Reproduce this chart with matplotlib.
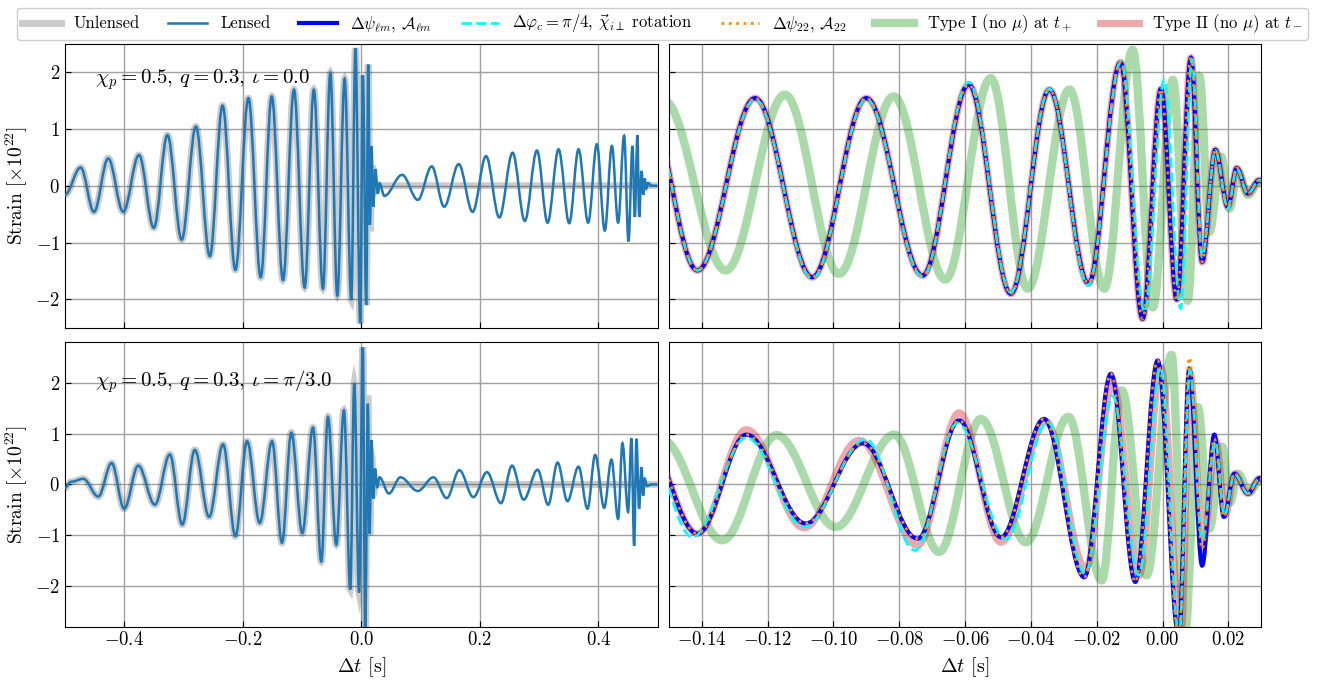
import matplotlib
matplotlib.use("Agg")
import matplotlib.pyplot as plt
from matplotlib.path import Path
from matplotlib.patches import PathPatch
from matplotlib.lines import Line2D
from matplotlib.ticker import MultipleLocator

plt.rcParams.update({
    "font.family": "serif",
    "font.serif": ["cmr10"],
    "mathtext.fontset": "cm",
    "axes.formatter.use_mathtext": True,
    "font.size": 13,
})

# ---- extrema (time [s], strain [x1e22]) ----
# left column, top row (iota = 0)
t_lens_top = [-0.500, -0.4735, -0.451, -0.427, -0.4016, -0.375, -0.350, -0.327, -0.303, -0.279,
              -0.2555, -0.234, -0.2123, -0.1904, -0.1696, -0.151, -0.132, -0.1135, -0.0955, -0.080,
              -0.0646, -0.0522, -0.0404, -0.028, -0.0168, -0.0098, -0.0017, 0.0028, 0.0084, 0.0118,
              0.0146, 0.0174, 0.0202, 0.024, 0.028, 0.031, 0.039, 0.069, 0.0955, 0.119,
              0.140, 0.1645, 0.188, 0.2106, 0.233, 0.2555, 0.276, 0.2965, 0.3145, 0.333,
              0.351, 0.3667, 0.383, 0.3976, 0.411, 0.423, 0.4335, 0.4436, 0.451, 0.4577,
              0.4617, 0.466, 0.469, 0.473, 0.476, 0.478, 0.481, 0.484, 0.490, 0.500]
v_lens_top = [-0.16, 0.32, -0.46, 0.48, -0.46, 0.54, -0.74, 0.89, -0.95, 1.04,
              -1.24, 1.41, -1.48, 1.54, -1.61, 1.57, -1.66, 1.69, -1.79, 1.69,
              -1.81, 1.98, -1.93, 1.88, -2.01, 2.42, -2.42, 1.94, -2.10, 2.13,
              -0.69, 0.69, -0.37, 0.29, -0.14, 0.04, -0.18, 0.19, -0.25, 0.34,
              -0.37, 0.38, -0.46, 0.52, -0.56, 0.58, -0.62, 0.62, -0.65, 0.64,
              -0.66, 0.64, -0.65, 0.73, -0.79, 0.70, -0.65, 0.88, -0.98, 0.70,
              -0.55, 0.89, -0.55, 0.26, -0.16, 0.13, -0.05, 0.05, 0.0, 0.0]
# unlensed: same inspiral as lensed up to merger, then ringdown to zero
t_unl_top = t_lens_top[:30] + [0.0150, 0.0185, 0.0215, 0.026, 0.032, 0.500]
v_unl_top = v_lens_top[:30] + [-0.80, 0.35, -0.12, 0.03, 0.0, 0.0]

# left column, bottom row (iota = pi/3)
t_lens_bot = [-0.500, -0.490, -0.469, -0.4437, -0.4212, -0.400, -0.3763, -0.3482, -0.323, -0.302,
              -0.2808, -0.2567, -0.2331, -0.2123, -0.1926, -0.1713, -0.1505, -0.1337, -0.118, -0.0994,
              -0.0814, -0.0674, -0.0562, -0.0421, -0.0292, -0.0185, -0.0118, -0.0037, 0.0028, 0.0067,
              0.0112, 0.014, 0.0174, 0.0202, 0.0235, 0.027, 0.0308, 0.0467, 0.0662, 0.0954,
              0.1218, 0.1443, 0.1656, 0.1892, 0.2122, 0.2358, 0.2544, 0.2741, 0.2976, 0.3156,
              0.3313, 0.348, 0.3667, 0.3818, 0.3948, 0.410, 0.4222, 0.4335, 0.4408, 0.4503,
              0.456, 0.4605, 0.4644, 0.4689, 0.4729, 0.4757, 0.4785, 0.482, 0.490, 0.500]
v_lens_bot = [-0.07, 0.05, 0.11, -0.24, 0.42, -0.48, 0.37, -0.40, 0.59, -0.79,
              0.68, -0.64, 0.79, -1.02, 0.85, -0.76, 0.85, -1.15, 1.02, -0.96,
              1.12, -1.52, 1.33, -1.19, 1.46, -2.07, 2.00, -2.13, 2.70, -3.00,
              1.59, -0.97, 0.87, -0.28, 0.31, -0.05, 0.14, -0.18, 0.14, -0.13,
              0.14, -0.27, 0.28, -0.25, 0.24, -0.37, 0.37, -0.30, 0.29, -0.40,
              0.43, -0.33, 0.35, -0.48, 0.58, -0.46, 0.49, -0.68, 0.81, -0.54,
              0.91, -1.21, 0.90, -0.48, 0.34, -0.22, 0.11, -0.03, 0.0, 0.0]
t_unl_bot = t_lens_bot[:30] + [0.0112, 0.0145, 0.0178, 0.021, 0.025, 0.032, 0.500]
v_unl_bot = v_lens_bot[:30] + [1.75, -1.00, 0.55, -0.20, 0.05, 0.0, 0.0]

# right column, top row
t_blue_top = [-0.157, -0.1413, -0.1238, -0.1064, -0.090, -0.0729, -0.0589, -0.0461, -0.0344, -0.0225,
              -0.0128, -0.0061, -0.0005, 0.0043, 0.0086, 0.012, 0.016, 0.0198, 0.0225, 0.0259, 0.0294, 0.031]
v_blue_top = [1.50, -1.49, 1.54, -1.61, 1.54, -1.58, 1.78, -1.90, 1.69, -1.72,
              2.17, -2.34, 1.70, -2.00, 2.25, -1.34, 0.63, -0.37, 0.31, -0.135, 0.10, 0.05]
t_cyan_top = [-0.157, -0.1413, -0.1238, -0.1064, -0.090, -0.0729, -0.0589, -0.0461, -0.0344, -0.0226,
              -0.0126, -0.0055, 0.0005, 0.0055, 0.0089, 0.012, 0.016, 0.0198, 0.0225, 0.0259, 0.0294, 0.031]
v_cyan_top = [1.50, -1.49, 1.52, -1.63, 1.52, -1.60, 1.82, -1.88, 1.70, -1.75,
              2.19, -2.22, 1.86, -2.16, 2.22, -1.25, 0.62, -0.40, 0.30, -0.14, 0.10, 0.05]
t_orange_top = t_blue_top
v_orange_top = v_blue_top
t_pink_top = t_blue_top
v_pink_top = v_blue_top
t_green_top = [-0.1515, -0.1327, -0.1147, -0.0983, -0.0817, -0.066, -0.0522, -0.041, -0.0283, -0.0177,
               -0.0091, -0.003, 0.0031, 0.0076, 0.0112, 0.0142, 0.0178, 0.0203, 0.0228, 0.0259, 0.0294, 0.031]
v_green_top = [1.50, -1.49, 1.60, -1.55, 1.57, -1.65, 1.89, -1.81, 1.69, -1.81,
               2.39, -2.14, 1.86, -2.02, 1.92, -0.81, 0.51, -0.40, 0.25, -0.16, 0.07, 0.03]

# right column, bottom row
t_blue_bot = [-0.1575, -0.1413, -0.1264, -0.1084, -0.091, -0.0744, -0.0618, -0.0491, -0.036, -0.0238,
              -0.0157, -0.0083, -0.0015, 0.0049, 0.0081, 0.012, 0.0157, 0.0186, 0.0218, 0.0259, 0.0294, 0.031]
v_blue_bot = [0.95, -0.97, 0.98, -0.77, 0.81, -1.07, 1.26, -1.04, 1.29, -1.83,
              2.18, -1.92, 2.44, -3.00, 2.28, -1.60, 0.98, -0.64, 0.21, -0.18, 0.12, 0.05]
t_cyan_bot = [-0.1575, -0.1428, -0.1264, -0.1089, -0.0902, -0.0752, -0.0623, -0.0476, -0.0349, -0.0235,
              -0.0152, -0.0073, -0.0006, 0.0050, 0.0083, 0.012, 0.016, 0.0188, 0.0218, 0.0259, 0.0294, 0.031]
v_cyan_bot = [0.95, -1.04, 0.92, -0.84, 0.89, -1.30, 1.21, -1.08, 1.23, -1.76,
              1.75, -1.79, 2.31, -3.00, 2.25, -1.10, 0.85, -0.61, 0.21, -0.18, 0.12, 0.05]
t_orange_bot = t_blue_bot
v_orange_bot = [0.95, -0.97, 0.98, -0.77, 0.81, -1.07, 1.26, -1.04, 1.29, -1.83,
                2.18, -1.92, 2.44, -3.00, 2.50, -1.27, 0.90, -0.64, 0.21, -0.18, 0.12, 0.05]
t_pink_bot = [-0.1575, -0.1413, -0.1264, -0.1089, -0.0922, -0.0744, -0.0618, -0.0491, -0.0354, -0.0233,
              -0.0152, -0.0071, -0.0005, 0.0056, 0.0083, 0.0122, 0.0162, 0.0191, 0.0218, 0.0259, 0.0294, 0.031]
v_pink_bot = [0.95, -0.97, 1.08, -0.86, 0.87, -1.20, 1.41, -1.14, 1.24, -1.66,
              2.00, -1.79, 2.30, -3.00, 2.20, -1.20, 0.85, -0.60, 0.21, -0.18, 0.12, 0.05]
t_green_bot = [-0.152, -0.1337, -0.1173, -0.0993, -0.0815, -0.0679, -0.0552, -0.0415, -0.0286, -0.0185,
               -0.0124, -0.0049, 0.0027, 0.0067, 0.0107, 0.0142, 0.0181, 0.0205, 0.0228, 0.0264, 0.0294, 0.031]
v_green_bot = [0.88, -1.10, 0.97, -0.84, 0.98, -1.33, 1.29, -1.14, 1.33, -1.89,
               1.85, -1.79, 2.55, -3.00, 1.52, -0.87, 0.74, -0.35, 0.21, -0.15, 0.08, 0.03]

labels = ["Unlensed", "Lensed", r"$\Delta\psi_{\ell m}$, $\mathcal{A}_{\ell m}$",
          r"$\Delta\varphi_c = \pi/4$, $\vec{\chi}_{i\perp}$ rotation",
          r"$\Delta\psi_{22}$, $\mathcal{A}_{22}$",
          r"Type I (no $\mu$) at $t_+$", r"Type II (no $\mu$) at $t_-$"]
annot = [r"$\chi_p = 0.5$, $q = 0.3$, $\iota = 0.0$", r"$\chi_p = 0.5$, $q = 0.3$, $\iota = \pi/3.0$"]

# smooth curve through the extrema: cubic segments with flat tangents at each extremum
K = 0.36


def wave(ax, t, v, **kw):
    verts = [(t[0], v[0])]
    codes = [Path.MOVETO]
    for t0, v0, t1, v1 in zip(t[:-1], v[:-1], t[1:], v[1:]):
        d = (t1 - t0) * K
        verts += [(t0 + d, v0), (t1 - d, v1), (t1, v1)]
        codes += [Path.CURVE4] * 3
    ax.add_patch(PathPatch(Path(verts, codes), fill=False, **kw))


styles = {
    "unl": dict(color="k", alpha=0.2, lw=5, zorder=2),
    "lens": dict(color="C0", lw=1.8, zorder=3),
    "blue": dict(color="blue", lw=3, zorder=4),
    "cyan": dict(color="cyan", lw=2, ls="--", zorder=5),
    "orange": dict(color="darkorange", lw=2, ls=":", zorder=6),
    "green": dict(color="C2", alpha=0.4, lw=6, zorder=2),
    "pink": dict(color="C3", alpha=0.4, lw=5, zorder=3),
}

fig, axes = plt.subplots(2, 2, figsize=(13.25, 6.81), dpi=100)
fig.subplots_adjust(left=0.049, right=0.952, bottom=0.080, top=0.936, wspace=0.019, hspace=0.051)

left_data = [(t_unl_top, v_unl_top, t_lens_top, v_lens_top),
             (t_unl_bot, v_unl_bot, t_lens_bot, v_lens_bot)]
right_data = [
    [("green", t_green_top, v_green_top), ("pink", t_pink_top, v_pink_top),
     ("blue", t_blue_top, v_blue_top), ("cyan", t_cyan_top, v_cyan_top),
     ("orange", t_orange_top, v_orange_top)],
    [("green", t_green_bot, v_green_bot), ("pink", t_pink_bot, v_pink_bot),
     ("blue", t_blue_bot, v_blue_bot), ("cyan", t_cyan_bot, v_cyan_bot),
     ("orange", t_orange_bot, v_orange_bot)],
]
ylims = [2.5, 2.8]
annot_y = [0.872, 0.862]

for row in range(2):
    axl, axr = axes[row]
    tu, vu, tl, vl = left_data[row]
    wave(axl, tu, vu, **styles["unl"])
    wave(axl, tl, vl, **styles["lens"])
    for key, t, v in right_data[row]:
        wave(axr, t, v, **styles[key])

    axl.set_xlim(-0.5, 0.5)
    axr.set_xlim(-0.15, 0.03)
    axl.xaxis.set_major_locator(MultipleLocator(0.2))
    axr.xaxis.set_major_locator(MultipleLocator(0.02))
    for ax in (axl, axr):
        ax.set_ylim(-ylims[row], ylims[row])
        ax.yaxis.set_major_locator(MultipleLocator(1))
        ax.grid(True, color="0.63", lw=1)
        ax.set_axisbelow(True)
        ax.tick_params(direction="in", length=4, labelsize=13.5)
    axr.tick_params(labelleft=False)
    axl.set_ylabel(r"Strain [$\times 10^{22}$]", fontsize=14)
    axl.text(0.05, annot_y[row], annot[row], transform=axl.transAxes, fontsize=15, va="center")
    if row == 0:
        axl.tick_params(labelbottom=False)
        axr.tick_params(labelbottom=False)
    else:
        axl.set_xlabel(r"$\Delta t$ [s]", fontsize=14.5)
        axr.set_xlabel(r"$\Delta t$ [s]", fontsize=14.5)

handles = [Line2D([], [], **{k: v for k, v in styles[s].items() if k != "zorder"})
           for s in ["unl", "lens", "blue", "cyan", "orange", "green", "pink"]]
fig.legend(handles, labels, loc="upper center", bbox_to_anchor=(0.5, 0.995), ncol=7,
           fontsize=12, columnspacing=1.7, handlelength=2.3, framealpha=1, borderaxespad=0.25,
           borderpad=0.3)

fig.savefig("out.png", dpi=100)
